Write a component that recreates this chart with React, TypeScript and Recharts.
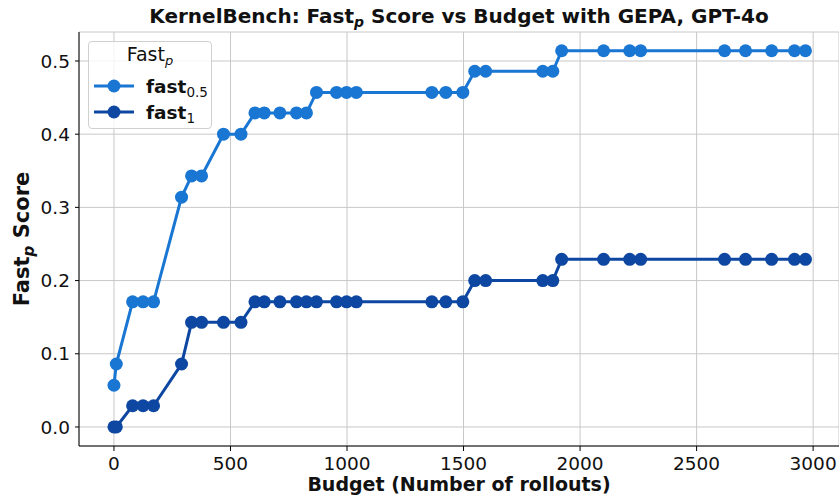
import {CartesianGrid, Label, Line, LineChart, XAxis, YAxis} from "recharts";
import React from "react";

// budget (number of rollouts) at each evaluation point
const BUDGETS = [0, 10, 80, 125, 170, 290, 333, 376, 470, 545, 605, 645, 712, 783, 826, 869, 955, 998, 1040,
    1364, 1424, 1497, 1548, 1595, 1840, 1883, 1921, 2101, 2213, 2260, 2620, 2710, 2822, 2920, 2967];

const FAST_05 = [0.057, 0.086, 0.171, 0.171, 0.171, 0.314, 0.343, 0.343, 0.4, 0.4,
    0.429, 0.429, 0.429, 0.429, 0.429,
    0.457, 0.457, 0.457, 0.457, 0.457, 0.457, 0.457,
    0.486, 0.486, 0.486, 0.486,
    0.514, 0.514, 0.514, 0.514, 0.514, 0.514, 0.514, 0.514, 0.514];

const FAST_1 = [0, 0, 0.029, 0.029, 0.029, 0.086, 0.143, 0.143, 0.143, 0.143,
    0.171, 0.171, 0.171, 0.171, 0.171, 0.171, 0.171, 0.171, 0.171, 0.171, 0.171, 0.171,
    0.2, 0.2, 0.2, 0.2,
    0.229, 0.229, 0.229, 0.229, 0.229, 0.229, 0.229, 0.229, 0.229];

const X_TICKS = [0, 500, 1000, 1500, 2000, 2500, 3000];
const Y_TICKS = [0, 0.1, 0.2, 0.3, 0.4, 0.5];

const SERIES = [
    {key: 'fast05', sub: '0.5', color: '#1976D2'},
    {key: 'fast1', sub: '1', color: '#0D47A1'},
];
const FONT = '"DejaVu Sans", sans-serif';

const data = BUDGETS.map((b, i) => ({budget: b, fast05: FAST_05[i], fast1: FAST_1[i]}));

const LegendBox = () => (
    <div style={{
        position: 'absolute', left: 88, top: 41, width: 124, height: 88, boxSizing: 'border-box',
        border: '1px solid #d0d0d0', borderRadius: 4, background: 'rgba(255,255,255,0.8)',
        fontFamily: FONT, color: '#111', zIndex: 2
    }}>
        <div style={{position: 'absolute', top: 1, left: 0, width: '100%', textAlign: 'center', fontSize: 19}}>
            Fast<sub style={{fontStyle: 'italic', fontSize: 13, verticalAlign: -4, lineHeight: 0}}>p</sub>
        </div>
        {SERIES.map((s, i) => (
            <div key={s.key} style={{position: 'absolute', left: 4, top: 33 + i * 26, height: 22, display: 'flex', alignItems: 'center'}}>
                <svg width={42} height={22}>
                    <line x1={1} y1={11} x2={41} y2={11} stroke={s.color} strokeWidth={3}/>
                    <circle cx={21} cy={11} r={6.5} fill={s.color}/>
                </svg>
                <span style={{marginLeft: 11, fontWeight: 'bold', fontSize: 18.5, whiteSpace: 'nowrap'}}>
                    fast<sub style={{fontWeight: 'normal', fontSize: 13.5, verticalAlign: -4, lineHeight: 0}}>{s.sub}</sub>
                </span>
            </div>
        ))}
    </div>
);

const YLabel = (props: any) => {
    const {viewBox} = props;
    const cx = viewBox.x + 29;
    const cy = viewBox.y + viewBox.height / 2;
    return (
        <text x={cx} y={cy} transform={`rotate(-90, ${cx}, ${cy})`} textAnchor="middle"
              fontFamily={FONT} fontWeight="bold" fontSize={21} fill="#111">
            Fast<tspan fontStyle="italic" fontSize={15} dy={5}>p</tspan><tspan dy={-5}> Score</tspan>
        </text>
    );
};

const App = () => {
    return (
        <div style={{position: 'absolute', left: 0, top: 0, width: 839, height: 495, background: '#fff'}}>
            <div style={{
                position: 'absolute', top: 4, left: 79, width: 760, textAlign: 'center', fontFamily: FONT,
                fontWeight: 'bold', fontSize: 20, color: '#111', zIndex: 2, whiteSpace: 'nowrap'
            }}>
                KernelBench: Fast<sub style={{fontStyle: 'italic', fontSize: 14, verticalAlign: -4, lineHeight: 0}}>p</sub> Score
                vs Budget with GEPA, GPT-4o
            </div>
            <LegendBox/>
            <LineChart width={839} height={495} data={data} margin={{top: 32, right: 0, bottom: 0, left: 0}}>
                <CartesianGrid stroke="#c8c8c8" strokeWidth={1}/>
                <XAxis type="number" dataKey="budget" domain={[-150, 3111]} ticks={X_TICKS} allowDataOverflow
                       height={49} tickSize={5} tickMargin={6} axisLine={{stroke: '#000'}} tickLine={{stroke: '#000'}}
                       tick={{fontFamily: FONT, fontSize: 18.5, fill: '#111'}} interval={0}>
                    <Label value="Budget (Number of rollouts)" position="insideBottom" offset={4}
                           style={{fontFamily: FONT, fontWeight: 'bold', fontSize: 19, fill: '#111'}}/>
                </XAxis>
                <YAxis type="number" domain={[-0.026, 0.5396]} ticks={Y_TICKS} allowDataOverflow width={79}
                       tickSize={4} tickMargin={5} axisLine={{stroke: '#000'}} tickLine={{stroke: '#000'}}
                       tickFormatter={(v: number) => v.toFixed(1)} interval={0}
                       tick={{fontFamily: FONT, fontSize: 18.5, fill: '#111'}}>
                    <Label content={YLabel}/>
                </YAxis>
                {SERIES.map((s) => (
                    <Line key={s.key} type="linear" dataKey={s.key} stroke={s.color} strokeWidth={3}
                          dot={{r: 6.5, fill: s.color, stroke: 'none'}} activeDot={false} isAnimationActive={false}/>
                ))}
            </LineChart>
        </div>
    );
};

export default App;
